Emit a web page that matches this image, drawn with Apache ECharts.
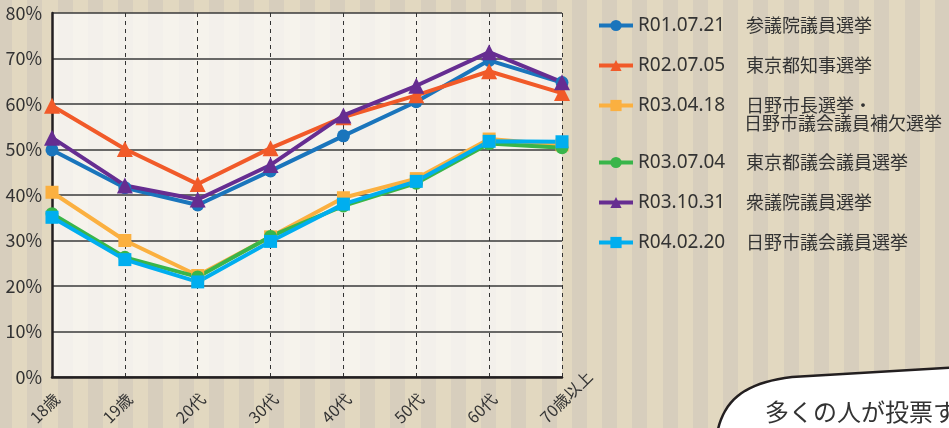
<!DOCTYPE html>
<html>
<head>
<meta charset="utf-8">
<script src="https://cdn.jsdelivr.net/npm/echarts@6/dist/echarts.min.js"></script>
<style>
html,body{margin:0;padding:0;}
#chart{
    width:949px;height:428px;
    background:repeating-linear-gradient(90deg,#d7cebd 0px,#d7cebd 15px,#e2d8c0 15px,#e2d8c0 30.25px);
    background-position:-3px 0;
}
</style>
</head>
<body>
<div id="chart"></div>
<script>
// 年代別投票率
var categories = ['18歳','19歳','20代','30代','40代','50代','60代','70歳以上'];
var dates = ['R01.07.21','R02.07.05','R03.04.18','R03.07.04','R03.10.31','R04.02.20'];
var titles = ['参議院議員選挙','東京都知事選挙','日野市長選挙・','東京都議会議員選挙','衆議院議員選挙','日野市議会議員選挙'];
var titleLine2 = '日野市議会議員補欠選挙';
var yTicks = [0,10,20,30,40,50,60,70,80];

var r010721 = [49.9, 41.6, 37.8, 45.3, 53.0, 60.5, 69.6, 64.7];
var r020705 = [59.6, 50.1, 42.4, 50.3, 57.1, 61.9, 67.2, 62.4];
var r030418 = [40.6, 30.0, 22.3, 30.8, 39.4, 43.6, 52.3, 51.0];
var r030704 = [35.9, 26.3, 22.0, 30.9, 37.6, 42.6, 51.3, 50.4];
var r031031 = [52.6, 42.1, 39.0, 46.6, 57.5, 64.0, 71.4, 64.8];
var r040220 = [35.1, 25.8, 20.9, 29.8, 38.0, 43.0, 51.8, 51.7];

var values = [r010721, r020705, r030418, r030704, r031031, r040220];
var colors = ['#1a75bc','#f15a29','#fbb040','#39b54a','#662d91','#00aeef'];
var symbols = ['circle','triangle','rect','circle','triangle','rect'];
var symbolSizes = [13, 16, 13, 13, 16, 13];

var font = '"Noto Sans CJK JP", "Noto Sans", sans-serif';

var chart = echarts.init(document.getElementById('chart'));

var series = [];
for (var i = 0; i < dates.length; i++) {
    series.push({
        name: dates[i],
        type: 'line',
        data: values[i],
        symbol: symbols[i],
        symbolSize: symbolSizes[i],
        itemStyle: {color: colors[i]},
        lineStyle: {color: colors[i], width: 4},
        animation: false
    });
}

function legendText(name){
    var k = dates.indexOf(name);
    return '{d|' + name + '}{n|' + titles[k] + '}';
}
var legendRich = {
    d: {width: 108, fontSize: 19, color: '#333', fontFamily: '"Noto Sans", sans-serif', lineHeight: 20},
    n: {fontSize: 18, color: '#333', fontFamily: font, lineHeight: 20}
};
function makeLegend(names, top){
    return {
        data: names,
        orient: 'vertical',
        left: 597,
        top: top,
        padding: 0,
        itemWidth: 34,
        itemHeight: 14,
        itemGap: 21,
        lineStyle: {width: 4},
        formatter: legendText,
        textStyle: {rich: legendRich},
        selectedMode: false
    };
}

// 吹き出しの輪郭（ベジェ曲線を折れ線に）
function bubblePoints(){
    var p0 = [716, 440], p1 = [721, 402], p2 = [742, 383], p3 = [792, 377];
    var pts = [];
    for (var t = 0; t <= 1.0001; t += 0.05) {
        var a = (1-t)*(1-t)*(1-t), b = 3*(1-t)*(1-t)*t, c = 3*(1-t)*t*t, d = t*t*t;
        pts.push([a*p0[0]+b*p1[0]+c*p2[0]+d*p3[0], a*p0[1]+b*p1[1]+c*p2[1]+d*p3[1]]);
    }
    pts.push([960, 367]);
    pts.push([960, 440]);
    return pts;
}

var option = {
    backgroundColor: 'transparent',
    color: colors,
    textStyle: {fontFamily: font},
    grid: {
        left: 52, top: 13, width: 510, height: 364,
        show: true,
        backgroundColor: 'rgba(255,255,255,0.7)',
        borderWidth: 0
    },
    legend: [
        makeLegend(dates.slice(0, 3), 16),
        makeLegend(dates.slice(3), 153)
    ],
    xAxis: {
        type: 'category',
        data: categories,
        boundaryGap: false,
        axisLine: {lineStyle: {color: '#231f20', width: 2.5}},
        axisTick: {show: false},
        axisLabel: {
            rotate: 45,
            margin: 24,
            align: 'right',
            width: 27,
            formatter: function(v){ return '{a|' + v + '}'; },
            rich: {a: {align: 'left', fontSize: 16, color: '#333', fontFamily: font}}
        },
        splitLine: {show: true, lineStyle: {color: '#333', width: 1, type: [4, 4]}}
    },
    yAxis: {
        type: 'value',
        min: yTicks[0],
        max: yTicks[yTicks.length - 1],
        interval: 10,
        axisLine: {show: true, lineStyle: {color: '#231f20', width: 2.5}},
        axisTick: {show: false},
        axisLabel: {
            formatter: '{value}%',
            fontSize: 18,
            color: '#333',
            margin: 10
        },
        splitLine: {lineStyle: {color: '#3a3a3a', width: 1.5}}
    },
    graphic: [
        {
            type: 'text',
            left: 744,
            top: 114,
            style: {text: titleLine2, fill: '#333', font: '18px ' + font}
        },
        {
            type: 'polygon',
            shape: {points: bubblePoints()},
            style: {fill: '#ffffff', stroke: '#231f20', lineWidth: 2.5}
        },
        {
            type: 'text',
            left: 765,
            top: 400,
            style: {text: '多くの人が投票す', fill: '#333', font: '24px ' + font}
        }
    ],
    series: series
};
chart.setOption(option);
</script>
</body>
</html>
